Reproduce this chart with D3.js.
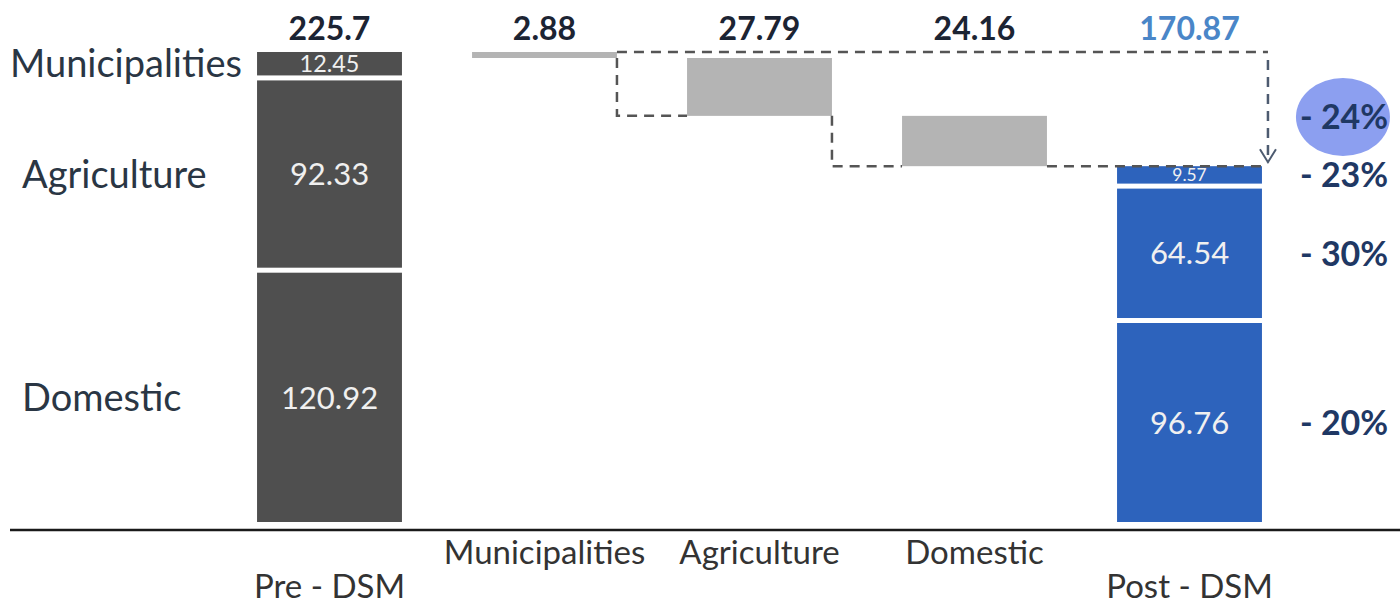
<!DOCTYPE html>
<html>
<head>
<meta charset="utf-8">
<script src="https://cdn.jsdelivr.net/npm/d3@7"></script>
<style>
  body { margin: 0; background: #fff; }
  svg { display: block; font-family: Lato, "Open Sans", sans-serif; }
</style>
</head>
<body>
<svg width="1400" height="608"></svg>
<script>
// chart data
var stages = ["Pre - DSM", "Municipalities", "Agriculture", "Domestic", "Post - DSM"];
var sectors = ["Municipalities", "Agriculture", "Domestic"];
var preValues = [12.45, 92.33, 120.92];
var savings = [2.88, 27.79, 24.16];
var postValues = [9.57, 64.54, 96.76];

var preTotal = +d3.sum(preValues).toFixed(2);
var postTotal = +d3.sum(postValues).toFixed(2);

var svg = d3.select("svg");
var baseY = 522, topY = 52;

var x = d3.scaleBand()
    .domain(stages)
    .range([222, 1297])
    .paddingInner(0.326)
    .paddingOuter(0.163);
var bw = x.bandwidth();

var y = d3.scaleLinear()
    .domain([0, preTotal])
    .range([baseY, topY]);

// stack segments top-down (Municipalities on top)
function stack(values) {
    var level = d3.sum(values), out = [];
    values.forEach(function(v, i) {
        out.push({ name: sectors[i], value: v, upper: level, lower: level - v, last: i === values.length - 1, first: i === 0 });
        level -= v;
    });
    return out;
}
var preStack = stack(preValues);
var postStack = stack(postValues);

var gap = 2.5;
function segTop(d) { return y(d.upper) + (d.first ? 0 : gap); }
function segH(d) { return y(d.lower) - y(d.upper) - (d.first ? 0 : gap) - (d.last ? 0 : gap); }

function drawStack(data, stage, fill) {
    svg.append("g").selectAll("rect")
        .data(data)
        .enter()
        .append("rect")
        .attr("x", x(stage))
        .attr("width", bw)
        .attr("y", segTop)
        .attr("height", segH)
        .attr("fill", fill);

    svg.append("g").selectAll("text")
        .data(data)
        .enter()
        .append("text")
        .attr("x", x(stage) + bw / 2)
        .attr("y", function(d) { return segTop(d) + segH(d) / 2; })
        .attr("dy", "0.36em")
        .attr("text-anchor", "middle")
        .attr("fill", "#f0f0f0")
        .style("font-size", function(d) { return Math.min(31, segH(d)) + "px"; })
        .text(function(d) { return d.value; });
}
drawStack(preStack, "Pre - DSM", "#4f4f4f");
drawStack(postStack, "Post - DSM", "#2d63bc");

// waterfall savings bars
var level = preTotal;
var steps = savings.map(function(v, i) {
    var s = { stage: sectors[i], value: v, upper: level, lower: level - v };
    level -= v;
    return s;
});

svg.append("g").selectAll("rect")
    .data(steps)
    .enter()
    .append("rect")
    .attr("x", function(d) { return x(d.stage); })
    .attr("width", bw)
    .attr("y", function(d) { return y(d.upper); })
    .attr("height", function(d) { return y(d.lower) - y(d.upper); })
    .attr("fill", "#b4b4b4");

// dashed connectors
var dash = svg.append("g")
    .attr("fill", "none")
    .attr("stroke", "#555")
    .attr("stroke-width", 2.5)
    .attr("stroke-dasharray", "10,7");

steps.forEach(function(d, i) {
    if (i === 0) return;
    var prev = steps[i - 1];
    dash.append("path")
        .attr("d", "M" + (x(prev.stage) + bw) + "," + y(prev.lower) +
                   "V" + y(d.lower) + "H" + x(d.stage));
});
var lastStep = steps[steps.length - 1];
dash.append("path")
    .attr("d", "M" + (x(lastStep.stage) + bw) + "," + y(postTotal) +
               "H" + (x("Post - DSM") + bw));

// top line + arrow down to the post total
var arrowX = x("Post - DSM") + bw + 6;
dash.append("path")
    .attr("d", "M" + (x(steps[0].stage) + bw) + "," + y(preTotal) + "H" + arrowX);
dash.append("path")
    .attr("stroke", "#4d5b70")
    .attr("d", "M" + arrowX + "," + (y(preTotal) + 8) + "V" + (y(postTotal) - 4));
svg.append("path")
    .attr("fill", "none")
    .attr("stroke", "#4d5b70")
    .attr("stroke-width", 2)
    .attr("d", "M" + (arrowX - 8) + "," + (y(postTotal) - 17) + "L" + arrowX + "," + (y(postTotal) - 4) +
               "L" + (arrowX + 8) + "," + (y(postTotal) - 17));

// totals above the bars
var topLabels = [preTotal].concat(savings, [postTotal]);
svg.append("g").selectAll("text")
    .data(stages)
    .enter()
    .append("text")
    .attr("x", function(d) { return x(d) + bw / 2; })
    .attr("y", 40)
    .attr("text-anchor", "middle")
    .attr("fill", function(d, i) { return i === stages.length - 1 ? "#4a86c8" : "#1c2433"; })
    .style("font-size", "32px")
    .style("font-weight", "bold")
    .text(function(d, i) { return topLabels[i]; });

// sector names left of the pre bar
svg.append("g").selectAll("text")
    .data(preStack)
    .enter()
    .append("text")
    .attr("x", function(d, i) { return i === 0 ? 10 : 22; })
    .attr("y", function(d) { return segTop(d) + segH(d) / 2; })
    .attr("dy", "0.36em")
    .attr("fill", "#2a3644")
    .style("font-size", "38px")
    .text(function(d) { return d.name; });

// baseline
svg.append("line")
    .attr("x1", 10).attr("x2", 1400)
    .attr("y1", baseY + 8).attr("y2", baseY + 8)
    .attr("stroke", "#1a1a1a")
    .attr("stroke-width", 2.5);

// bottom category labels
svg.append("g").selectAll("text")
    .data(stages)
    .enter()
    .append("text")
    .attr("x", function(d) { return x(d) + bw / 2; })
    .attr("y", function(d, i) { return (i === 0 || i === stages.length - 1) ? 598 : 564; })
    .attr("text-anchor", "middle")
    .attr("fill", "#333")
    .style("font-size", "33px")
    .text(function(d) { return d; });

// reduction percentages
var pctX = x("Post - DSM") + bw + 38;
var totalPct = Math.round((preTotal - postTotal) / preTotal * 100);
var ellipseY = (y(preTotal) + y(postTotal)) / 2 + 8;
svg.append("ellipse")
    .attr("cx", pctX + 43)
    .attr("cy", ellipseY)
    .attr("rx", 47)
    .attr("ry", 39)
    .attr("fill", "#8c9ff0");
svg.append("text")
    .attr("x", pctX)
    .attr("y", ellipseY)
    .attr("dy", "0.36em")
    .attr("fill", "#1f3864")
    .style("font-size", "34px")
    .style("font-weight", "bold")
    .text("- " + totalPct + "%");

svg.append("g").selectAll("text")
    .data(postStack)
    .enter()
    .append("text")
    .attr("x", pctX)
    .attr("y", function(d) { return segTop(d) + segH(d) / 2; })
    .attr("dy", "0.36em")
    .attr("fill", "#1f3864")
    .style("font-size", "34px")
    .style("font-weight", "bold")
    .text(function(d, i) { return "- " + Math.round(savings[i] / preValues[i] * 100) + "%"; });
</script>
</body>
</html>
